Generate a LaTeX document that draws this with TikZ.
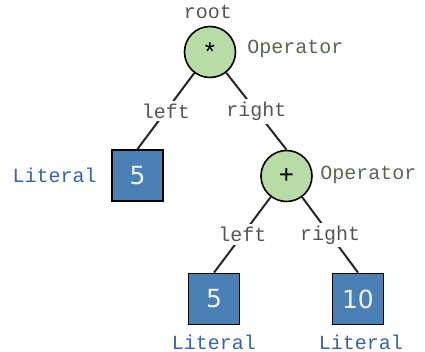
\documentclass[tikz,border=0pt]{standalone}
\usepackage{fontspec}
\setmonofont{Liberation Mono}
\newfontfamily\numfont{DejaVu Sans}
\usetikzlibrary{positioning}
\definecolor{opfill}{HTML}{B8DCA6}
\definecolor{litfill}{HTML}{4A80B3}
\definecolor{optext}{HTML}{4F6E44}
\definecolor{littext}{HTML}{3565A8}
\definecolor{edgetext}{HTML}{555555}

\begin{document}
\begin{tikzpicture}[
  x=0.5pt, y=-0.5pt,
  font=\ttfamily\fontsize{10}{12}\selectfont,
  op/.style={circle, draw=black, line width=0.8pt, fill=opfill,
             minimum size=25.5pt, inner sep=0pt,
             font=\ttfamily\fontsize{13}{14}\selectfont},
  lit/.style={rectangle, draw=black, line width=0.9pt, fill=litfill,
              minimum size=25.5pt, inner sep=0pt, text=white!95!black,
              font=\numfont\fontsize{12.5}{14}\selectfont},
  edge/.style={draw=black!85, line width=1pt},
  elbl/.style={fill=white, text=edgetext, inner sep=1.5pt},
  oplbl/.style={text=optext, anchor=west, inner sep=0pt},
  litlbl/.style={text=littext, inner sep=0pt},
]
  \useasboundingbox (0,0) rectangle (425,352);
  % ── Tree nodes ──
  \node[op]  (mul)  at (210, 52)  {*};
  \node[lit] (five) at (137.5,175.5) {5};
  \node[op]  (plus) at (286.5,176) {+};
  \node[lit] (fiveb) at (214, 299) {5};
  \node[lit] (ten)  at (358, 299) {10};
  % ── Node kinds ──
  \node[text=edgetext] (rootlbl) at (208, 12) {root};
  \node[oplbl] (mulkind)  at (247, 49)  {Operator};
  \node[oplbl] (pluskind) at (320, 175) {Operator};
  \node[litlbl, left=7pt of five] (fivekind) {Literal};
  \node[litlbl] (fivebkind) at (214, 342) {Literal};
  \node[litlbl] (tenkind)   at (361, 342) {Literal};
  % ── Edges (label sits on the line) ──
  \draw[edge] (mul) -- node[elbl] {left} (five.north);
  \draw[edge] (mul) -- node[elbl] {right} (plus.north);
  \draw[edge] (plus) -- node[elbl] {left} (fiveb.north);
  \draw[edge] (plus) -- node[elbl] {right} (ten.north);
\end{tikzpicture}
\end{document}
